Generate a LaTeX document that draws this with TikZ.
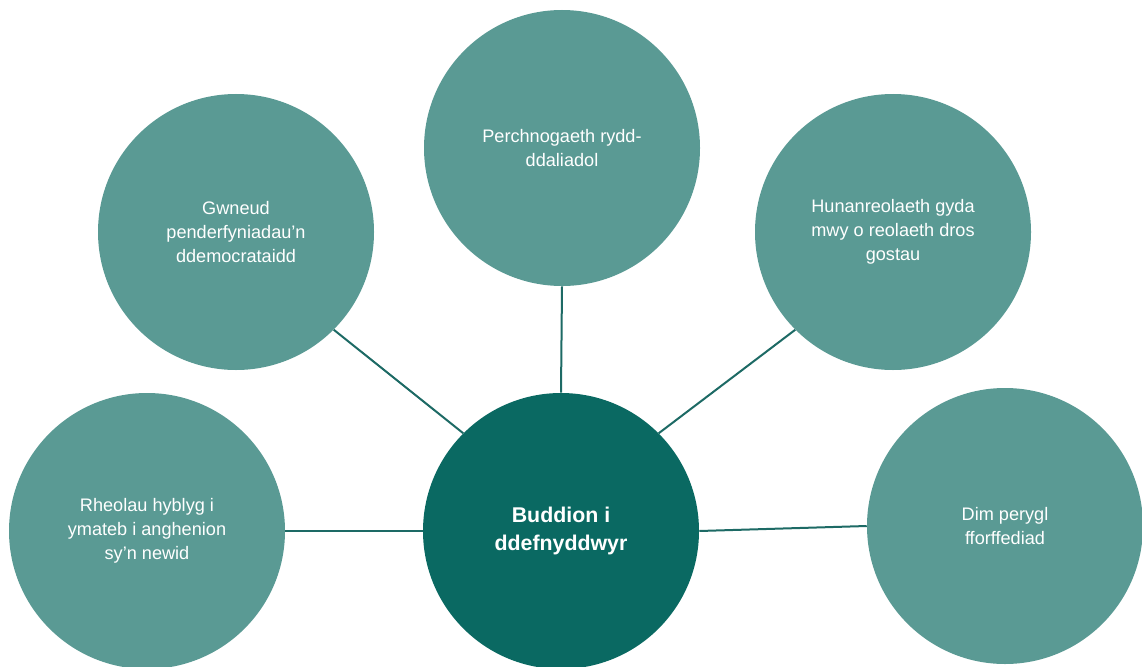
\documentclass[tikz,border=0pt]{standalone}
\usepackage{fontspec}
\setmainfont{Liberation Sans}
\definecolor{outerc}{HTML}{5A9A94}
\definecolor{innerc}{HTML}{0A6962}
\definecolor{linec}{HTML}{1D6A65}
\begin{document}
\begin{tikzpicture}[x=0.75pt,y=-0.75pt,
  outer/.style={circle,fill=outerc,draw=none,minimum size=276*0.75pt,inner sep=0pt,
    text=white,align=center,font=\fontsize{13.6}{17.8}\selectfont},
  inner/.style={circle,fill=innerc,draw=none,minimum size=276*0.75pt,inner sep=0pt,
    text=white,align=center,font=\fontsize{16}{21}\selectfont\bfseries},
  conn/.style={draw=linec,line width=1.5pt}]
\useasboundingbox (0,0) rectangle (1142,667);
\fill[white] (0,0) rectangle (1142,667);
\node[outer] (top) at (562,148) {Perchnogaeth rydd-\\ddaliadol};
\node[outer] (lt) at (236,232) {Gwneud\\penderfyniadau’n\\ddemocrataidd};
\node[outer] (rt) at (893,232) {Hunanreolaeth gyda\\mwy o reolaeth dros\\gostau};
\node[outer] (lb) at (147,531) {Rheolau hyblyg i\\ymateb i anghenion\\sy’n newid};
\node[outer] (rb) at (1005,526) {Dim perygl\\fforffediad};
\node[inner] (c) at (561,531) {Buddion i\\ddefnyddwyr};
\draw[conn] (c.90) -- (top.-90);
\draw[conn] (c.135) -- (lt.-45);
\draw[conn] (c.45) -- (rt.-135);
\draw[conn] (c.180) -- (lb.0);
\draw[conn] (c.0) -- (rb.180);
\end{tikzpicture}
\end{document}
